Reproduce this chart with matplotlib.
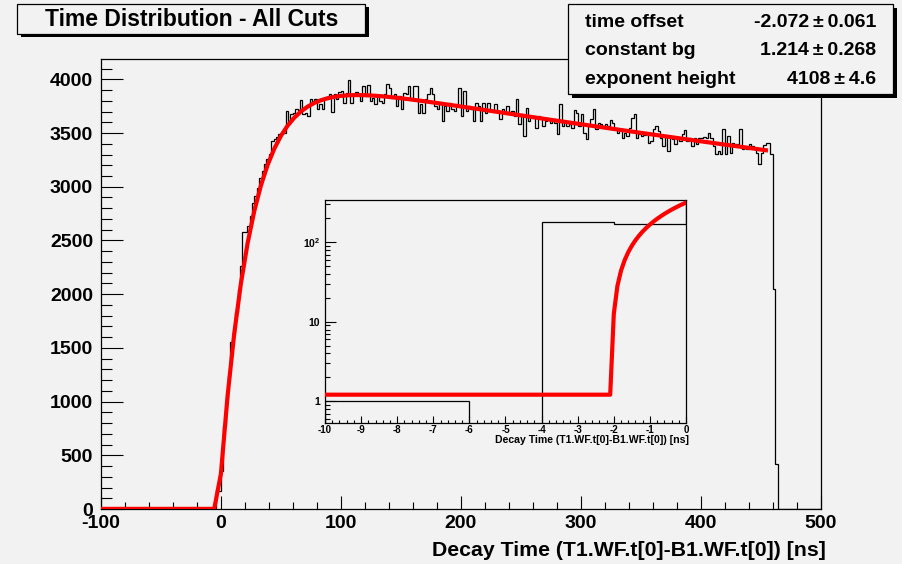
import numpy as np
import matplotlib
matplotlib.use("Agg")
import matplotlib.pyplot as plt
from matplotlib.patches import Rectangle
from matplotlib.ticker import MultipleLocator, FixedLocator, FixedFormatter, NullFormatter

plt.rcParams['font.family'] = ['Liberation Sans', 'DejaVu Sans']
plt.rcParams['font.weight'] = 'bold'
plt.rcParams['axes.unicode_minus'] = False
plt.rcParams['mathtext.fontset'] = 'custom'
plt.rcParams['mathtext.rm'] = 'Liberation Sans:bold'
plt.rcParams['mathtext.bf'] = 'Liberation Sans:bold'

BG = '#f2f2f2'

# ---- histogram: 300 bins of 2 ns from -100 to 500 ns ----
bin_edges = np.arange(-100, 502, 2)

counts_before = [0] * 45 + [1, 1, 0, 182, 171]          # -100 .. 0 ns
counts_rise = [356, 775, 1023, 1240, 1550, 1643, 1830, 2047, 2264, 2574,
               2574, 2636, 2729, 2853, 2915, 2992, 3085, 3147, 3209, 3256,
               3302, 3426, 3442, 3464, 3488, 3504, 3504, 3705, 3581, 3674,
               3684, 3721]                                   # 0 .. 64 ns
counts_peak = [3710, 3808, 3675, 3690, 3660, 3814, 3783, 3820, 3721, 3767,
               3721, 3814, 3820, 3860, 3696, 3860, 3814, 3882, 3890, 3783,
               3876, 3994, 3777, 3851, 3882, 3860, 3798, 3938, 3845, 3944,
               3798, 3829, 3767, 3851, 3798, 3783, 3860, 3953, 3922, 3829,
               3860, 3752, 3845, 3721, 3876, 3860, 3938, 3814, 3938, 3938,
               3690, 3767, 3690, 3814, 3860, 3922, 3860, 3752, 3721, 3783,
               3612, 3752, 3705, 3783]                       # 64 .. 192 ns
counts_mid = [3721, 3705, 3767, 3922, 3659, 3891, 3705, 3752, 3721, 3612,
              3783, 3752, 3612, 3783, 3690, 3777, 3705, 3705, 3767, 3705,
              3628, 3721, 3690, 3752, 3674, 3705, 3659, 3814, 3581, 3674,
              3473, 3736, 3612, 3659, 3659, 3550, 3659, 3643, 3566, 3612,
              3628, 3597, 3628, 3597, 3488, 3767, 3566, 3612, 3566, 3581,
              3550, 3715, 3690, 3566, 3674, 3504, 3448, 3566, 3628, 3721,
              3535, 3597, 3581, 3566, 3581, 3566]            # 192 .. 324 ns
counts_tail = [3618, 3596, 3550, 3503, 3534, 3457, 3503, 3472, 3550, 3643,
               3674, 3457, 3488, 3472, 3482, 3503, 3410, 3426, 3534, 3566,
               3519, 3457, 3380, 3472, 3333, 3472, 3442, 3401, 3457, 3426,
               3488, 3525, 3426, 3457, 3380, 3457, 3395, 3457, 3457, 3463,
               3457, 3503, 3457, 3380, 3302, 3333, 3302, 3534, 3308, 3472,
               3318, 3410, 3395, 3395, 3535, 3349, 3380, 3349, 3395, 3380,
               3349, 3318, 3209, 3318, 3390, 3405, 3405, 3302, 2050, 420]  # 324 .. 464 ns
counts_after = [0] * 18                                      # 464 .. 500 ns

counts = np.array(counts_before + counts_rise + counts_peak + counts_mid
                  + counts_tail + counts_after, dtype=float)

# ---- fit result ----
time_offset, time_offset_err = -2.072, 0.061
constant_bg, constant_bg_err = 1.214, 0.268
exponent_height, exponent_height_err = 4108, 4.6
rise_time = 26.0      # ns, fixed in the fit
decay_time = 2200.0   # ns, fixed in the fit
fit_range = (-100.0, 456.0)

stat_names = ["time offset", "constant bg", "exponent height"]
stat_values = [f"{time_offset:.3f}", f"{constant_bg:.3f}", f"{exponent_height:d}"]
stat_errors = [f"{time_offset_err:.3f}", f"{constant_bg_err:.3f}", f"{exponent_height_err:.1f}"]

title = "Time Distribution - All Cuts"
xtitle = "Decay Time (T1.WF.t[0]-B1.WF.t[0]) [ns]"


def decay_model(t):
    dt = np.clip(t - time_offset, 0, None)
    sig = np.where(t > time_offset,
                   exponent_height * (1 - np.exp(-dt / rise_time)) * np.exp(-dt / decay_time),
                   0.0)
    return sig + constant_bg


fig = plt.figure(figsize=(9.03, 5.64), dpi=100, facecolor=BG)

# ---- main frame ----
ax = fig.add_axes([100.8 / 903, 55 / 564, 720 / 903, 450.5 / 564])
ax.set_facecolor(BG)
ax.stairs(counts, bin_edges, color='black', lw=0.9, zorder=2)
t_main = np.linspace(fit_range[0], fit_range[1], 101)
ax.plot(t_main, decay_model(t_main), color='#ff0000', lw=3.0,
        solid_capstyle='butt', zorder=3)
ax.set_xlim(-100, 500)
ax.set_ylim(0, 1.05 * counts.max())
ax.xaxis.set_major_locator(MultipleLocator(100))
ax.xaxis.set_minor_locator(MultipleLocator(20))
ax.yaxis.set_major_locator(MultipleLocator(500))
ax.yaxis.set_minor_locator(MultipleLocator(100))
ax.tick_params(axis='x', which='major', direction='in', length=9.6, width=0.8,
               labelsize=14, pad=4.3, top=False)
ax.tick_params(axis='x', which='minor', direction='in', length=4.8, width=0.8, top=False)
ax.tick_params(axis='y', which='major', direction='in', length=15.8, width=0.8,
               labelsize=14, pad=5.6, right=False)
ax.tick_params(axis='y', which='minor', direction='in', length=7.9, width=0.8, right=False)
for lab in ax.get_xticklabels() + ax.get_yticklabels():
    lab.set_fontweight('bold')
for sp in ax.spines.values():
    sp.set_linewidth(0.9)
ax.set_xlabel(xtitle, fontsize=15.3, fontweight='bold', ha='right', va='top')
ax.xaxis.set_label_coords(1.0072, -0.071)

# ---- inset: zoom on the onset, log scale ----
axi = fig.add_axes([325 / 903, 141 / 564, 361 / 903, 223 / 564])
axi.set_facecolor(BG)
axi.set_yscale('log')
axi.stairs(counts, bin_edges, color='black', lw=0.9, zorder=2)
t_ins = np.linspace(-10, 0, 101)
axi.plot(t_ins, decay_model(t_ins), color='#ff0000', lw=3.0, zorder=3)
axi.set_xlim(-10, 0)
axi.set_ylim(0.535, 340)
axi.xaxis.set_major_locator(MultipleLocator(1))
axi.xaxis.set_minor_locator(MultipleLocator(0.2))
axi.yaxis.set_major_locator(FixedLocator([1, 10, 100]))
axi.yaxis.set_major_formatter(FixedFormatter(["1", "10", r"$10^{2}$"]))
minor_y = [m * 10 ** d for d in (-1, 0, 1, 2) for m in range(2, 10)]
axi.yaxis.set_minor_locator(FixedLocator(minor_y))
axi.yaxis.set_minor_formatter(NullFormatter())
axi.tick_params(axis='x', which='major', direction='in', length=4.8, width=0.8,
                labelsize=7, pad=1.5, top=False)
axi.tick_params(axis='x', which='minor', direction='in', length=2.4, width=0.8, top=False)
axi.tick_params(axis='y', which='major', direction='in', length=7.8, width=0.8,
                labelsize=7.5, pad=3.5, right=False)
axi.tick_params(axis='y', which='minor', direction='in', length=3.9, width=0.8, right=False)
for lab in axi.get_xticklabels() + axi.get_yticklabels():
    lab.set_fontweight('bold')
for sp in axi.spines.values():
    sp.set_linewidth(0.9)
axi.set_xlabel(xtitle, fontsize=7.6, fontweight='bold', ha='right', va='top')
axi.xaxis.set_label_coords(1.0083, -0.054)

# ---- title and statistics boxes (pixel coordinates) ----
ov = fig.add_axes([0, 0, 1, 1], zorder=10)
ov.set_xlim(0, 903)
ov.set_ylim(564, 0)
ov.axis('off')
ov.patch.set_alpha(0)

ov.add_patch(Rectangle((21, 7), 348.5, 30, fc='black', ec='none'))
ov.add_patch(Rectangle((17, 4), 348.5, 30, fc=BG, ec='black', lw=0.9))
ov.text(192, 19.5, title, fontsize=16.5, fontweight='bold', ha='center', va='center')

ov.add_patch(Rectangle((572, 8), 325, 90, fc='black', ec='none'))
ov.add_patch(Rectangle((568, 4), 325, 90, fc=BG, ec='black', lw=0.9))
row_y = [27, 55, 84]
for name, val, err, y in zip(stat_names, stat_values, stat_errors, row_y):
    ov.text(585, y, name, fontsize=14, fontweight='bold', ha='left', va='baseline')
    ov.text(876, y, f"{val}\u2009\u00b1\u2009{err}", fontsize=14, fontweight='bold',
            ha='right', va='baseline')

fig.savefig("out.png", dpi=100, facecolor=BG)
